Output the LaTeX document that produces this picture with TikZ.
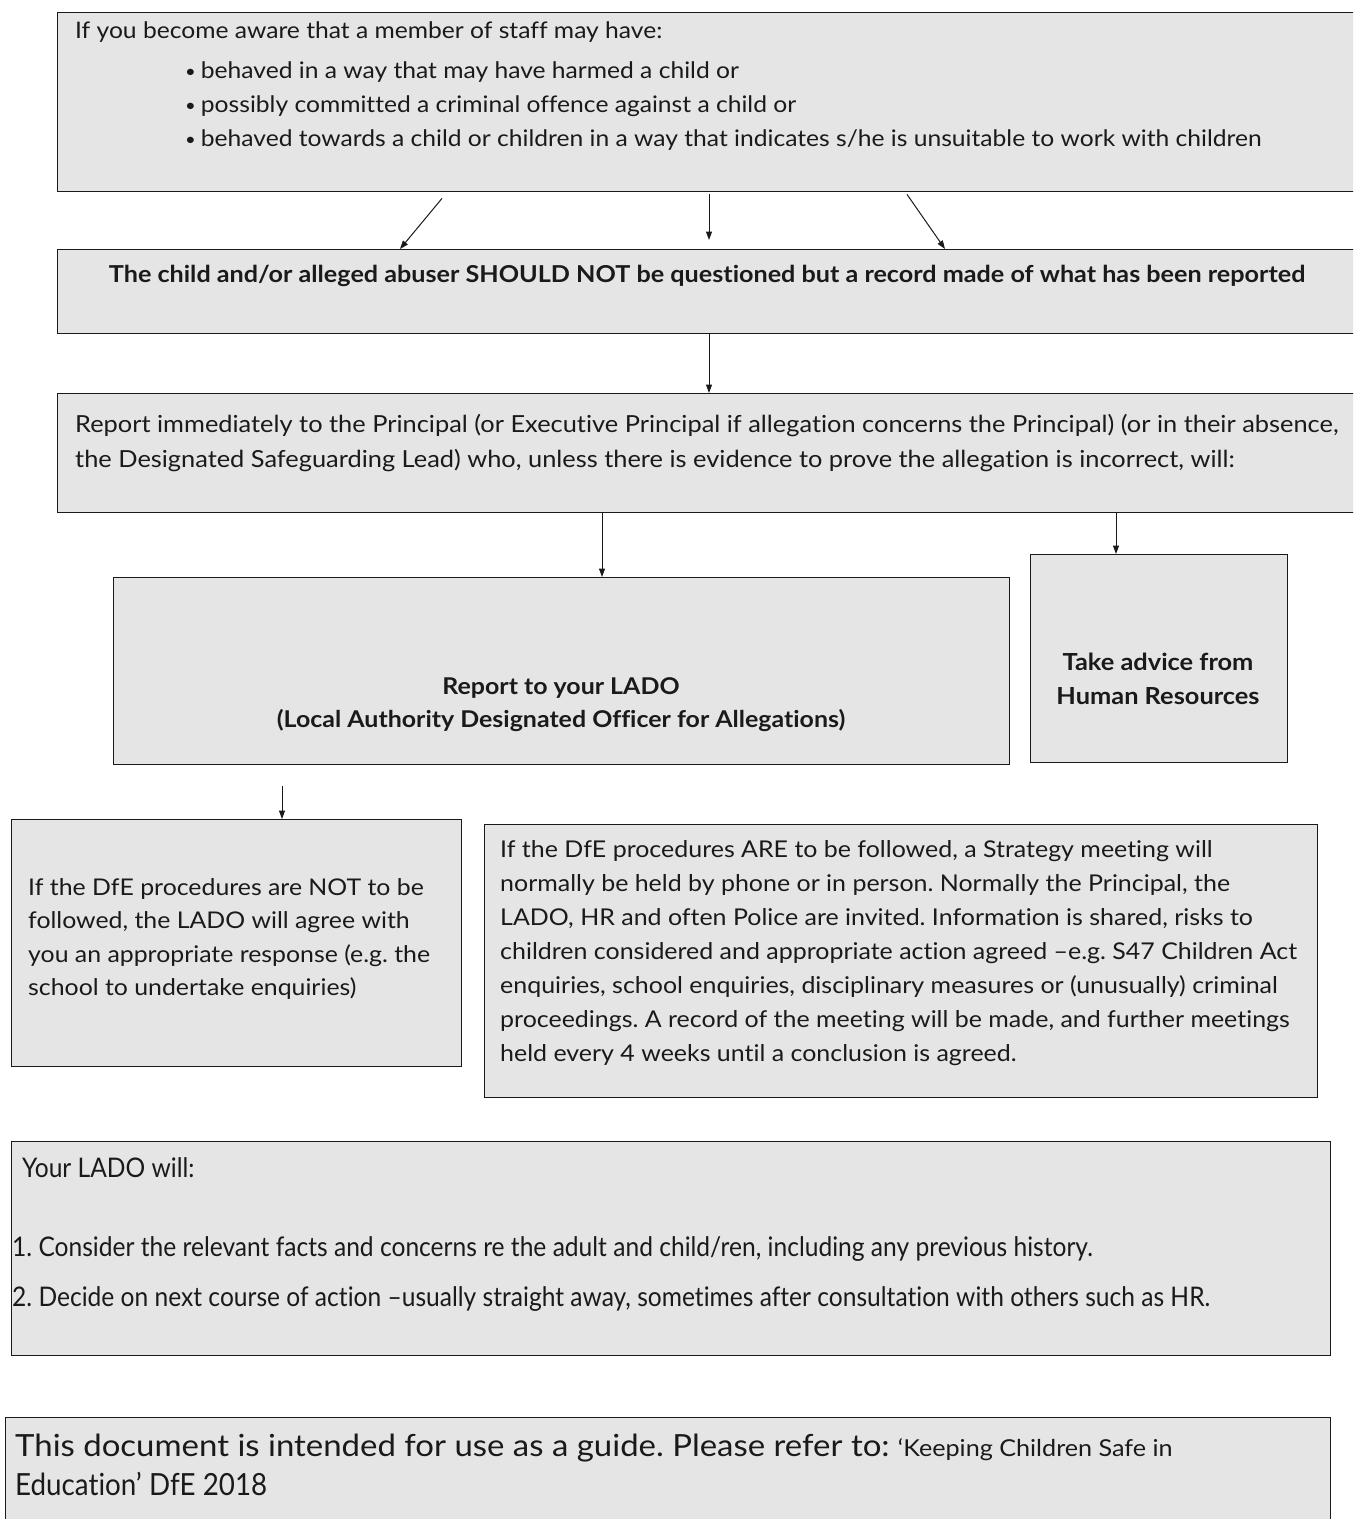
\documentclass[tikz,border=0pt]{standalone}
\usepackage{fontspec}
\usepackage{graphicx}
\setmainfont{Lato}[FakeStretch=1.08, Ligatures=NoCommon]
\newfontfamily\condfont{Lato}[FakeStretch=0.91, Ligatures=NoCommon]
\usetikzlibrary{arrows.meta}
\definecolor{boxfill}{HTML}{E5E5E5}
\definecolor{inkcol}{HTML}{1A1A1A}
\newcommand{\bul}{\raisebox{1.5pt}{\scalebox{0.75}{\textbullet}}\hspace{5pt}}
\tikzset{
  box/.style={draw=inkcol, line width=1.4pt, fill=boxfill, inner sep=0pt, anchor=north west},
  txt/.style={inner sep=0pt, align=left, anchor=north west, text=inkcol, font=\fontsize{23}{34}\selectfont},
  arr/.style={draw=inkcol, line width=1pt, -{Triangle[length=8.5pt,width=6pt]}},
}
\begin{document}
\frenchspacing
\begin{tikzpicture}[x=1pt,y=-1pt]
\fill[white] (0,0) rectangle (1353,1519);
\useasboundingbox (0,0) rectangle (1353,1519);
\clip (0,0) rectangle (1353,1519);

% boxes
\node[box, minimum width=1299pt, minimum height=179pt] (b1) at (57,12) {};
\node[box, minimum width=1299pt, minimum height=84pt]  (b2) at (57,249) {};
\node[box, minimum width=1299pt, minimum height=119pt] (b3) at (57,393) {};
\node[box, minimum width=896pt,  minimum height=187pt] (b4) at (113,577) {};
\node[box, minimum width=257pt,  minimum height=208pt] (b5) at (1030,554) {};
\node[box, minimum width=450pt,  minimum height=247pt] (b6) at (11,819) {};
\node[box, minimum width=833pt,  minimum height=273pt] (b7) at (484,824) {};
\node[box, minimum width=1319pt, minimum height=214pt] (b8) at (11,1141) {};
\node[box, minimum width=1325pt, minimum height=120pt] (b9) at (5,1417) {};

% texts
\node[txt, font=\fontsize{22.8}{34}\selectfont] (t1) at (75,22) {If you become aware that a member of staff may have:\\[6pt]
\hspace*{110pt}\bul behaved in a way that may have harmed a child or\\
\hspace*{110pt}\bul possibly committed a criminal offence against a child or\\
\hspace*{110pt}\bul behaved towards a child or children in a way that indicates s/he is unsuitable to work with children};

\node[txt, anchor=north, font=\fontsize{23.3}{34}\selectfont\bfseries] (t2) at (707,265)
  {The child and/or alleged abuser SHOULD NOT be questioned but a record made of what has been reported};

\node[txt, font=\fontsize{23.5}{35}\selectfont] (t3) at (75,414)
  {Report immediately to the Principal (or Executive Principal if allegation concerns the Principal) (or in their absence,\\
   the Designated Safeguarding Lead) who, unless there is evidence to prove the allegation is incorrect, will:};

\node[txt, anchor=north, align=center, font=\fontsize{23.1}{33}\selectfont\bfseries] (t4) at (561,677)
  {Report to your LADO\\(Local Authority Designated Officer for Allegations)};

\node[txt, anchor=north, align=center, font=\fontsize{23.5}{34}\selectfont\bfseries] (t5) at (1158,653)
  {Take advice from\\Human Resources};

\node[txt, font=\fontsize{23}{33.5}\selectfont] (t6) at (28,878)
  {If the DfE procedures are NOT to be\\
   followed, the LADO will agree with\\
   you an appropriate response (e.g. the\\
   school to undertake enquiries)};

\node[txt, font=\fontsize{23.1}{34}\selectfont] (t7) at (500,840)
  {If the DfE procedures ARE to be followed, a Strategy meeting will\\
   normally be held by phone or in person. Normally the Principal, the\\
   LADO, HR and often Police are invited. Information is shared, risks to\\
   children considered and appropriate action agreed –e.g. S47 Children Act\\
   enquiries, school enquiries, disciplinary measures or (unusually) criminal\\
   proceedings. A record of the meeting will be made, and further meetings\\
   held every 4 weeks until a conclusion is agreed.};

\node[txt, font=\fontsize{27}{50}\condfont] (t8a) at (22,1157) {Your LADO will:};
\node[txt, font=\fontsize{27}{50}\condfont] (t8b) at (12,1236)
  {1. Consider the relevant facts and concerns re the adult and child/ren, including any previous history.\\
   2. Decide on next course of action –usually straight away, sometimes after consultation with others such as HR.};

\node[txt, font=\fontsize{30.5}{39}\selectfont] (t9) at (15,1434)
  {This document is intended for use as a guide. Please refer to: {\fontsize{23.3}{39}\selectfont ‘Keeping Children Safe in}\\
   {\condfont Education’ DfE 2018}};

% connectors
\draw[arr] ([xshift=385pt,yshift=-6pt]b1.south west) -- ([xshift=343pt]b2.north west);
\draw[arr] ([xshift=652pt,yshift=-2pt]b1.south west) -- ([xshift=652pt,yshift=9pt]b2.north west);
\draw[arr] ([xshift=850pt,yshift=-2pt]b1.south west) -- ([xshift=888pt]b2.north west);
\draw[arr] ([xshift=652pt]b2.south west) -- ([xshift=652pt]b3.north west);
\draw[arr] ([xshift=545pt]b3.south west) -- ([xshift=489pt]b4.north west);
\draw[arr] ([xshift=1059pt]b3.south west) -- ([xshift=86pt]b5.north west);
\draw[arr] ([xshift=169pt,yshift=-21pt]b4.south west) -- ([xshift=271pt]b6.north west);
\end{tikzpicture}
\end{document}
